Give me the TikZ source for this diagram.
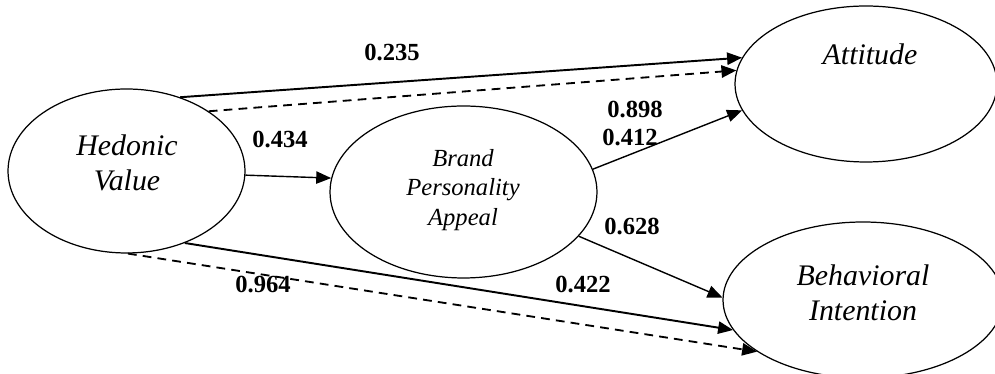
\documentclass[tikz,border=0pt]{standalone}
\usepackage{fontspec}
\setmainfont{Liberation Serif}
\usetikzlibrary{shapes.geometric,arrows.meta}

\tikzset{
  construct/.style={draw, ellipse, inner sep=0pt, line width=0.7pt},
  bigname/.style={font=\fontsize{17}{19.9}\selectfont\itshape, align=center, inner sep=0pt},
  smallname/.style={font=\fontsize{14}{17}\selectfont\itshape, align=center, inner sep=0pt},
  coef/.style={font=\fontsize{14}{16}\selectfont\bfseries, inner sep=0pt},
  path/.style={-{Triangle[length=8.5pt,width=7pt]}, line width=0.8pt},
  mainpath/.style={path, line width=1.1pt},
  indirect/.style={path, line width=1.05pt, dash pattern=on 5pt off 3.5pt},
}

\begin{document}
\begin{tikzpicture}[x=0.02cm, y=-0.02cm]
\useasboundingbox (0,0) rectangle (995,374);

% latent constructs
\node[construct, minimum width=4.74cm, minimum height=3.28cm] (hv) at (126.5,171) {};
\node[construct, minimum width=5.34cm, minimum height=3.44cm] (bpa) at (463.5,192) {};
\node[construct, minimum width=5.24cm, minimum height=3.12cm] (att) at (866,84) {};
\node[construct, minimum width=5.60cm, minimum height=3.12cm] (bi) at (863,300) {};

% construct names
\node[bigname] (hvname) at (127,163) {Hedonic\\Value};
\node[smallname] (bpaname) at (463,190) {Brand\\Personality\\Appeal};
\node[bigname] (attname) at (870,54) {Attitude};
\node[bigname] (biname) at (863,293) {Behavioral\\Intention};

% structural paths
\draw[mainpath] (hv.54) -- (att.168);
\draw[indirect] (hv.36) -- (att.174);
\draw[path] (hv.-2) -- (bpa.174);
\draw[path] (bpa.10.5) -- (att.192);
\draw[path] (bpa.-21) -- (bi.179);
\draw[mainpath] (hv.-51) -- (bi.193);
\draw[indirect] (hv.-89) -- (bi.206);

% path coefficients
\node[coef] (c235) at (392,53) {0.235};
\node[coef] (c434) at (280,140) {0.434};
\node[coef] (c898) at (635,110) {0.898};
\node[coef] (c412) at (630,138) {0.412};
\node[coef] (c628) at (632,227) {0.628};
\node[coef] (c422) at (583,285) {0.422};
\node[coef] (c964) at (263,285) {0.964};
\end{tikzpicture}
\end{document}
